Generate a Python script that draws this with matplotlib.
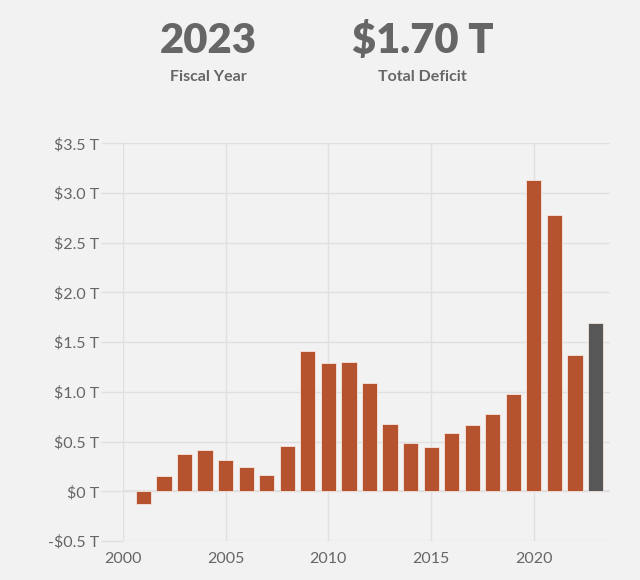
import numpy as np
import matplotlib.pyplot as plt
from matplotlib.ticker import FuncFormatter

plt.rcParams['font.family'] = ['Lato', 'DejaVu Sans']

years = list(range(2001, 2024))
deficit = [-0.128, 0.158, 0.378, 0.413, 0.318, 0.248, 0.161, 0.459,
           1.413, 1.294, 1.300, 1.087, 0.680, 0.485, 0.442, 0.585,
           0.665, 0.779, 0.984, 3.132, 2.775, 1.375, 1.695]
y_ticks = [-0.5, 0, 0.5, 1.0, 1.5, 2.0, 2.5, 3.0, 3.5]
x_ticks = [2000, 2005, 2010, 2015, 2020]

bg = '#f2f2f2'
grid_c = '#e0e0e0'
text_c = '#666666'
colors = ['#b5532e'] * (len(years) - 1) + ['#575757']

fig = plt.figure(figsize=(6.4, 5.8), dpi=100)
fig.patch.set_facecolor(bg)
ax = fig.add_axes([0.192, 0.067, 0.761, 0.686])
ax.set_facecolor(bg)

ax.bar(years, deficit, width=0.74, color=colors, edgecolor='#f6e6e0',
       linewidth=0.6, zorder=3)

ax.set_xlim(2000, 2023.7)
ax.set_ylim(-0.5, 3.5)
ax.set_yticks(y_ticks)
ax.set_xticks(x_ticks)


def fmt(v, pos):
    if v == 0:
        return '$0 T'
    s = f'${abs(v):.1f} T'
    return '-' + s if v < 0 else s


ax.yaxis.set_major_formatter(FuncFormatter(fmt))
ax.grid(True, color=grid_c, linewidth=1.0, zorder=0)
ax.tick_params(axis='y', length=16, color=grid_c, width=1.0,
               labelsize=11.5, labelcolor=text_c, pad=1)
ax.tick_params(axis='x', length=0, labelsize=11.5, labelcolor=text_c, pad=8)
for s in ax.spines.values():
    s.set_visible(False)
ax.axhline(0, color=grid_c, linewidth=1.5, zorder=1)

fig.text(0.325, 0.93, '2023', ha='center', va='center', fontsize=30,
         fontweight='heavy', color=text_c)
fig.text(0.325, 0.867, 'Fiscal Year', ha='center', va='center',
         fontsize=11.5, fontweight='bold', color=text_c)
fig.text(0.66, 0.93, '$1.70 T', ha='center', va='center', fontsize=30,
         fontweight='heavy', color=text_c)
fig.text(0.66, 0.867, 'Total Deficit', ha='center', va='center',
         fontsize=11.5, fontweight='bold', color=text_c)

fig.savefig('out.png', dpi=100, facecolor=bg)
plt.close(fig)
